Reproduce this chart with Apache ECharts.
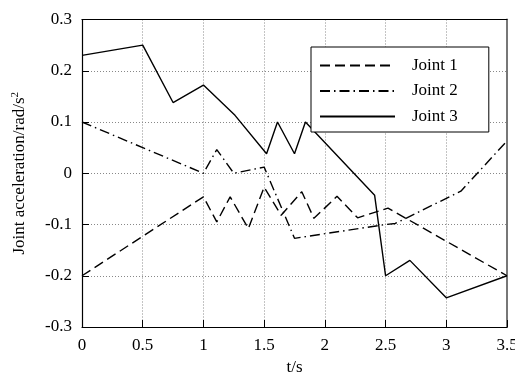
<!DOCTYPE html>
<html>
<head>
<meta charset="utf-8">
<script src="https://cdn.jsdelivr.net/npm/echarts@6/dist/echarts.min.js"></script>
<style>html,body{margin:0;padding:0;background:#fff;}#c{width:515px;height:374px;}</style>
</head>
<body>
<div id="c"></div>
<script>
var seriesNames = ['Joint 1', 'Joint 2', 'Joint 3'];
var xTicks = [0, 0.5, 1, 1.5, 2, 2.5, 3, 3.5];
var yTicks = [-0.3, -0.2, -0.1, 0, 0.1, 0.2, 0.3];

var joint1T = [0, 1, 1.11, 1.22, 1.37, 1.5, 1.64, 1.81, 1.91, 2.10, 2.27, 2.52, 3.5];
var joint1V = [-0.2, -0.046, -0.095, -0.046, -0.108, -0.027, -0.082, -0.036, -0.088, -0.045, -0.087, -0.068, -0.2];

var joint2T = [0, 0.5, 1, 1.11, 1.25, 1.5, 1.75, 2.5, 2.58, 3.12, 3.5];
var joint2V = [0.1, 0.05, 0.0, 0.046, 0.0, 0.012, -0.127, -0.1, -0.098, -0.035, 0.063];

var joint3T = [0, 0.5, 0.75, 1, 1.26, 1.52, 1.61, 1.75, 1.84, 2.41, 2.5, 2.7, 3.0, 3.5];
var joint3V = [0.23, 0.25, 0.138, 0.172, 0.113, 0.038, 0.10, 0.038, 0.10, -0.043, -0.2, -0.17, -0.243, -0.2];

function pairs(t, v) { return t.map(function (x, i) { return [x, v[i]]; }); }

var FONT = 'Liberation Serif';
var chart = echarts.init(document.getElementById('c'), null, {renderer: 'canvas'});
var grid = {left: 82, right: 8, top: 19.5, bottom: 47, containLabel: false, outerBoundsMode: 'none', show: false};
var lineSeries = function (name, data, type) {
  return {
    name: name, type: 'line', data: data, symbol: 'none', showSymbol: false, animation: false,
    lineStyle: {color: '#000', width: 1.4, type: type}, itemStyle: {color: '#000'}
  };
};
chart.setOption({
  backgroundColor: '#fff',
  animation: false,
  textStyle: {fontFamily: FONT},
  grid: grid,
  legend: {
    orient: 'vertical', left: 311, top: 47,
    data: seriesNames,
    itemWidth: 75, itemHeight: 14, itemGap: 8.5,
    padding: [10, 31, 7, 8],
    borderColor: '#000', borderWidth: 1, backgroundColor: '#fff',
    itemStyle: {opacity: 0},
    textStyle: {fontFamily: FONT, fontSize: 17, color: '#000', padding: [0, 0, 0, 12]}
  },
  xAxis: [{
    type: 'value', min: 0, max: 3.5, interval: 0.5,
    name: 't/s', nameLocation: 'middle', nameGap: 30,
    nameTextStyle: {fontFamily: FONT, fontSize: 17, color: '#000'},
    axisLine: {show: true, onZero: false, lineStyle: {color: '#000', width: 1.2}},
    axisTick: {show: true, inside: true, length: 7, lineStyle: {color: '#000'}},
    axisLabel: {fontFamily: FONT, fontSize: 17, color: '#000', margin: 10,
      formatter: function (v) { return xTicks.indexOf(v) >= 0 ? String(v) : ''; }},
    splitLine: {show: true, lineStyle: {color: '#888', type: [1, 2], width: 1}}
  }, {
    type: 'value', min: 0, max: 3.5, interval: 0.5, position: 'top',
    axisLine: {show: true, onZero: false, lineStyle: {color: '#000', width: 1.2}},
    axisTick: {show: false}, axisLabel: {show: false}, splitLine: {show: false}
  }],
  yAxis: [{
    type: 'value', min: -0.3, max: 0.3, interval: 0.1,
    name: '{a|Joint acceleration/rad/s}{s|2}', nameLocation: 'middle', nameGap: 53, nameRotate: 90,
    nameTextStyle: {
      fontFamily: FONT, fontSize: 17, color: '#000',
      rich: {
        a: {fontFamily: FONT, fontSize: 17, color: '#000'},
        s: {fontFamily: FONT, fontSize: 11, color: '#000', verticalAlign: 'top', padding: [0, 0, 8, 0]}
      }
    },
    axisLine: {show: true, onZero: false, lineStyle: {color: '#000', width: 1.2}},
    axisTick: {show: true, inside: true, length: 7, lineStyle: {color: '#000'}},
    axisLabel: {fontFamily: FONT, fontSize: 17, color: '#000', margin: 10,
      formatter: function (v) {
        var r = Math.round(v * 10) / 10;
        return r === 0 ? '0' : r.toFixed(1);
      }},
    splitLine: {show: true, lineStyle: {color: '#888', type: [1, 2], width: 1}}
  }, {
    type: 'value', min: -0.3, max: 0.3, interval: 0.1, position: 'right',
    axisLine: {show: true, onZero: false, lineStyle: {color: '#777', width: 2}},
    axisTick: {show: false}, axisLabel: {show: false}, splitLine: {show: false}
  }],
  series: [
    lineSeries(seriesNames[0], pairs(joint1T, joint1V), [10, 5]),
    lineSeries(seriesNames[1], pairs(joint2T, joint2V), [10, 4, 1.5, 4]),
    lineSeries(seriesNames[2], pairs(joint3T, joint3V), 'solid')
  ]
});
</script>
</body>
</html>
